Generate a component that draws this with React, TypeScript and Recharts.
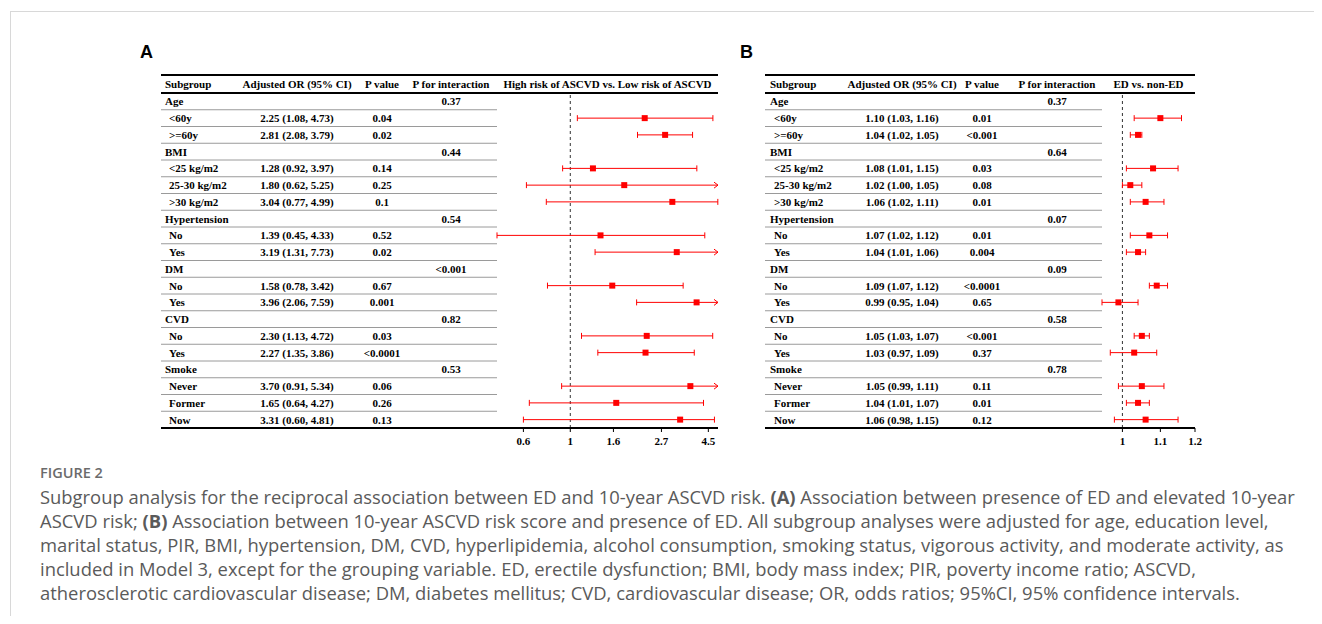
import React from 'react';
import { ScatterChart, Scatter, XAxis, YAxis, ReferenceLine } from 'recharts';

// Subgroup rows (shared by both panels)
const subgroups = [
  'Age', '<60y', '>=60y', 'BMI', '<25 kg/m2', '25-30 kg/m2', '>30 kg/m2',
  'Hypertension', 'No', 'Yes', 'DM', 'No', 'Yes', 'CVD', 'No', 'Yes',
  'Smoke', 'Never', 'Former', 'Now',
];

// Panel A: high vs low ASCVD risk
const orA = [null, 2.25, 2.81, null, 1.28, 1.8, 3.04, null, 1.39, 3.19, null, 1.58, 3.96, null, 2.3, 2.27, null, 3.7, 1.65, 3.31];
const lowA = [null, 1.08, 2.08, null, 0.92, 0.62, 0.77, null, 0.45, 1.31, null, 0.78, 2.06, null, 1.13, 1.35, null, 0.91, 0.64, 0.6];
const highA = [null, 4.73, 3.79, null, 3.97, 5.25, 4.99, null, 4.33, 7.73, null, 3.42, 7.59, null, 4.72, 3.86, null, 5.34, 4.27, 4.81];
const pA = ['', '0.04', '0.02', '', '0.14', '0.25', '0.1', '', '0.52', '0.02', '', '0.67', '0.001', '', '0.03', '<0.0001', '', '0.06', '0.26', '0.13'];
const pIntA = ['0.37', '', '', '0.44', '', '', '', '0.54', '', '', '<0.001', '', '', '0.82', '', '', '0.53', '', '', ''];
const ticksA = [0.6, 1, 1.6, 2.7, 4.5];

// Panel B: ED vs non-ED
const orB = [null, 1.1, 1.04, null, 1.08, 1.02, 1.06, null, 1.07, 1.04, null, 1.09, 0.99, null, 1.05, 1.03, null, 1.05, 1.04, 1.06];
const lowB = [null, 1.03, 1.02, null, 1.01, 1.0, 1.02, null, 1.02, 1.01, null, 1.07, 0.95, null, 1.03, 0.97, null, 0.99, 1.01, 0.98];
const highB = [null, 1.16, 1.05, null, 1.15, 1.05, 1.11, null, 1.12, 1.06, null, 1.12, 1.04, null, 1.07, 1.09, null, 1.11, 1.07, 1.15];
const pB = ['', '0.01', '<0.001', '', '0.03', '0.08', '0.01', '', '0.01', '0.004', '', '<0.0001', '0.65', '', '<0.001', '0.37', '', '0.11', '0.01', '0.12'];
const pIntB = ['0.37', '', '', '0.64', '', '', '', '0.07', '', '', '0.09', '', '', '0.58', '', '', '0.78', '', '', ''];
const ticksB = [1, 1.1, 1.2];

const captionLines = [
  ['Subgroup analysis for the reciprocal association between ED and 10-year ASCVD risk. ', '(A)', ' Association between presence of ED and elevated 10-year'],
  ['ASCVD risk; ', '(B)', ' Association between 10-year ASCVD risk score and presence of ED. All subgroup analyses were adjusted for age, education level,'],
  ['marital status, PIR, BMI, hypertension, DM, CVD, hyperlipidemia, alcohol consumption, smoking status, vigorous activity, and moderate activity, as'],
  ['included in Model 3, except for the grouping variable. ED, erectile dysfunction; BMI, body mass index; PIR, poverty income ratio; ASCVD,'],
  ['atherosclerotic cardiovascular disease; DM, diabetes mellitus; CVD, cardiovascular disease; OR, odds ratios; 95%CI, 95% confidence intervals.'],
];

const SERIF = '"Liberation Serif", "Times New Roman", serif';
const RED = '#ff0000';
const ROWS = subgroups.length;
const PLOT_H = 335;
const ROW_H = PLOT_H / ROWS;

interface PanelProps {
  or: (number | null)[];
  low: (number | null)[];
  high: (number | null)[];
  p: string[];
  pInt: string[];
  ticks: number[];
  domain: [number, number];
  title: string;
  tableW: number;
  plotW: number;
  cols: { sub: number; or: number; p: number; pInt: number };
}

const txt = { fontFamily: SERIF, fontSize: 11, fontWeight: 'bold' as const, fill: '#000' };

const Panel = (props: PanelProps) => {
  const { or, low, high, p, pInt, ticks, domain, title, tableW, plotW, cols } = props;
  const points = subgroups
    .map((_, i) => ({ row: i, or: or[i] }))
    .filter((d) => d.or != null);

  // each y-axis tick draws one table row (and the header for row 0)
  const TableRow = (t: any) => {
    const i = t.payload.value as number;
    const right = t.x;
    const left = right - tableW;
    const y = t.y;
    const isGroup = or[i] == null;
    const ci = isGroup ? '' : `${(or[i] as number).toFixed(2)} (${(low[i] as number).toFixed(2)}, ${(high[i] as number).toFixed(2)})`;
    const top = y - ROW_H / 2;
    return (
      <g>
        {i === 0 && (
          <g>
            <line x1={left} x2={right + plotW} y1={top - 18} y2={top - 18} stroke="#000" strokeWidth={2} />
            <line x1={left} x2={right + plotW} y1={top} y2={top} stroke="#000" strokeWidth={2} />
            <text x={left + cols.sub} y={top - 9} dominantBaseline="central" {...txt}>Subgroup</text>
            <text x={left + cols.or} y={top - 9} dominantBaseline="central" textAnchor="middle" {...txt}>Adjusted OR (95% CI)</text>
            <text x={left + cols.p} y={top - 9} dominantBaseline="central" textAnchor="middle" {...txt}>P value</text>
            <text x={left + cols.pInt} y={top - 9} dominantBaseline="central" textAnchor="middle" {...txt}>P for interaction</text>
            <text x={right + plotW / 2} y={top - 9} dominantBaseline="central" textAnchor="middle" {...txt}>{title}</text>
          </g>
        )}
        {i < ROWS - 1 ? (
          <line x1={left} x2={right} y1={y + ROW_H / 2} y2={y + ROW_H / 2} stroke="#9a9a9a" strokeWidth={1} />
        ) : (
          <line x1={left} x2={right} y1={y + ROW_H / 2} y2={y + ROW_H / 2} stroke="#000" strokeWidth={2} />
        )}
        <text x={left + cols.sub + (isGroup ? 0 : 4)} y={y} dominantBaseline="central" {...txt}>{subgroups[i]}</text>
        <text x={left + cols.or} y={y} dominantBaseline="central" textAnchor="middle" {...txt}>{ci}</text>
        <text x={left + cols.p} y={y} dominantBaseline="central" textAnchor="middle" {...txt}>{p[i]}</text>
        <text x={left + cols.pInt} y={y} dominantBaseline="central" textAnchor="middle" {...txt}>{pInt[i]}</text>
      </g>
    );
  };

  const ciShape = (arrow: boolean) => (s: any) => {
    const { x1, y1, x2, y2 } = s;
    return (
      <g stroke={RED} strokeWidth={1} fill="none">
        <line x1={x1} y1={y1} x2={x2} y2={y2} />
        <line x1={x1} y1={y1 - 3} x2={x1} y2={y1 + 3} />
        {arrow ? (
          <polyline points={`${x2 - 4},${y2 - 3} ${x2},${y2} ${x2 - 4},${y2 + 3}`} />
        ) : (
          <line x1={x2} y1={y2 - 3} x2={x2} y2={y2 + 3} />
        )}
      </g>
    );
  };

  return (
    <ScatterChart width={tableW + plotW + 8} height={398} margin={{ top: 33, right: 8, bottom: 0, left: 0 }}>
      <XAxis
        type="number"
        dataKey="or"
        scale="log"
        domain={domain}
        allowDataOverflow
        ticks={ticks}
        interval={0}
        height={30}
        tickSize={4}
        tickMargin={5}
        tick={txt}
        tickFormatter={(v: number) => String(v)}
        axisLine={{ stroke: '#000', strokeWidth: 2 }}
        tickLine={{ stroke: '#000' }}
      />
      <YAxis
        type="number"
        dataKey="row"
        domain={[-0.5, ROWS - 0.5]}
        reversed
        ticks={subgroups.map((_, i) => i)}
        interval={0}
        width={tableW}
        axisLine={false}
        tickLine={false}
        tickSize={0}
        tickMargin={0}
        tick={TableRow}
      />
      <ReferenceLine x={1} stroke="#333" strokeDasharray="3 3" ifOverflow="visible" />
      {subgroups.map((_, i) =>
        or[i] == null ? null : (
          <ReferenceLine
            key={i}
            ifOverflow="visible"
            segment={[
              { x: low[i] as number, y: i },
              { x: Math.min(high[i] as number, domain[1]), y: i },
            ]}
            shape={ciShape((high[i] as number) > domain[1])}
          />
        )
      )}
      <Scatter
        data={points}
        isAnimationActive={false}
        shape={(s: any) => <rect x={s.cx - 3} y={s.cy - 3} width={6} height={6} fill={RED} />}
      />
    </ScatterChart>
  );
};

const abs = (x: number, y: number): React.CSSProperties => ({ position: 'absolute', left: x - 8, top: y - 8 });

export default function App() {
  return (
    <div style={{ position: 'relative', width: 1306, height: 608 }}>
      <div style={{ ...abs(10, 11), width: 1310, height: 610, borderTop: '1px solid #d8d8d8', borderLeft: '1px solid #d8d8d8' }} />
      <div style={{ ...abs(140, 43), fontFamily: '"Liberation Sans", Arial, sans-serif', fontWeight: 'bold', fontSize: 18, lineHeight: '18px' }}>A</div>
      <div style={{ ...abs(740, 43), fontFamily: '"Liberation Sans", Arial, sans-serif', fontWeight: 'bold', fontSize: 18, lineHeight: '18px' }}>B</div>
      <div style={abs(161, 60)}>
        <Panel or={orA} low={lowA} high={highA} p={pA} pInt={pIntA} ticks={ticksA} domain={[0.45, 5]}
          title="High risk of ASCVD vs. Low risk of ASCVD" tableW={336} plotW={221}
          cols={{ sub: 4, or: 136, p: 221, pInt: 290 }} />
      </div>
      <div style={abs(765, 60)}>
        <Panel or={orB} low={lowB} high={highB} p={pB} pInt={pIntB} ticks={ticksB} domain={[0.95, 1.2]}
          title="ED vs. non-ED" tableW={337} plotW={93}
          cols={{ sub: 5, or: 137, p: 217, pInt: 292 }} />
      </div>
      <div style={{ ...abs(40, 465), fontFamily: '"Open Sans", sans-serif', fontWeight: 600, fontSize: 14.5, lineHeight: '16px', color: '#6b6b6b' }}>FIGURE 2</div>
      <div style={{ ...abs(40, 485), fontFamily: '"Open Sans", sans-serif', fontSize: 18.4, lineHeight: '24px', color: '#5a5a5a', whiteSpace: 'nowrap' }}>
        {captionLines.map((parts, i) => (
          <div key={i}>
            {parts.map((s, j) => (j === 1 ? <b key={j}>{s}</b> : <span key={j}>{s}</span>))}
          </div>
        ))}
      </div>
    </div>
  );
}
